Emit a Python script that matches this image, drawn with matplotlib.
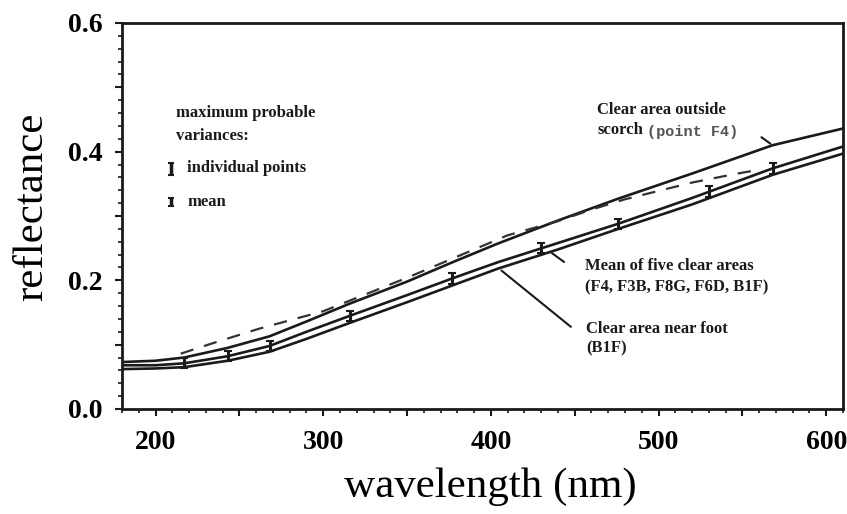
import matplotlib
matplotlib.use("Agg")
import matplotlib.pyplot as plt
from matplotlib.ticker import FixedLocator, MultipleLocator, FuncFormatter

# ---- data ----
wl = [180, 200, 217, 243, 268, 290, 316, 350, 377, 404, 440, 476, 520, 568, 610]
outside_scorch_F4 = [0.073, 0.075, 0.080, 0.095, 0.113, 0.136, 0.164, 0.198, 0.228, 0.257,
                     0.293, 0.327, 0.366, 0.410, 0.436]
mean_five = [0.068, 0.068, 0.071, 0.082, 0.098, 0.120, 0.145, 0.177, 0.203, 0.228,
             0.258, 0.288, 0.328, 0.374, 0.408]
near_foot_B1F = [0.062, 0.063, 0.065, 0.075, 0.089, 0.109, 0.134, 0.166, 0.192, 0.218,
                 0.248, 0.280, 0.318, 0.364, 0.397]

dash_wl = [215, 235, 262, 300, 350, 410, 440, 460, 480, 520, 545, 560]
dash_vals = [0.086, 0.103, 0.125, 0.152, 0.204, 0.270, 0.292, 0.310, 0.326, 0.352, 0.365, 0.372]

err_wl = [217, 243, 268, 316, 377, 430, 476, 530, 568]
err_vals = [0.071, 0.082, 0.098, 0.145, 0.203, 0.250, 0.288, 0.338, 0.374]
err_size = 0.008

x_ticks = [200, 300, 400, 500, 600]
y_ticks = [0.0, 0.2, 0.4, 0.6]

serif = ["Liberation Serif", "DejaVu Serif"]

fig = plt.figure(figsize=(8.47, 5.14), dpi=100)
ax = fig.add_axes([122/847, 1 - 409/514, (843 - 122)/847, (409 - 23)/514])

ink = "#1a1a1a"
ax.plot(wl, outside_scorch_F4, color=ink, lw=1.9)
ax.plot(wl, mean_five, color=ink, lw=1.9)
ax.plot(wl, near_foot_B1F, color=ink, lw=1.9)
ax.plot(dash_wl, dash_vals, color="#333333", lw=1.6, dashes=(6, 5))
ax.errorbar(err_wl, err_vals, yerr=err_size, fmt="none", ecolor=ink, elinewidth=2.2,
            capsize=3, capthick=1.5)

ax.set_xlim(180, 610)
ax.set_ylim(0.0, 0.6)

# ticks
ax.xaxis.set_major_locator(FixedLocator(list(range(200, 601, 50))))
ax.xaxis.set_major_formatter(FuncFormatter(lambda v, p: f"{int(v)}" if int(v) in x_ticks else ""))
ax.xaxis.set_minor_locator(MultipleLocator(10))
ax.yaxis.set_major_locator(FixedLocator([0.0, 0.1, 0.2, 0.3, 0.4, 0.5, 0.6]))
ax.yaxis.set_major_formatter(FuncFormatter(lambda v, p: f"{v:.1f}" if any(abs(v - t) < 1e-6 for t in y_ticks) else ""))
ax.yaxis.set_minor_locator(MultipleLocator(0.02))

ax.tick_params(axis="both", which="major", direction="out", length=5, width=1.5, color=ink)
ax.tick_params(axis="both", which="minor", direction="out", length=3, width=1.2, color=ink)
ax.tick_params(axis="x", which="major", pad=10)
ax.tick_params(axis="y", which="major", pad=9)
for lab in ax.get_xticklabels() + ax.get_yticklabels():
    lab.set_family(serif)
    lab.set_fontweight("bold")
    lab.set_fontsize(20)

for s in ax.spines.values():
    s.set_linewidth(2)
    s.set_color(ink)

# axis titles
fig.text(32/847, 1 - 207/514, "reflectance", rotation=90, ha="center", va="center",
         fontsize=31, family=serif)
fig.text(490/847, 1 - 487/514, "wavelength (nm)", ha="center", va="center",
         fontsize=31, family=serif)

# legend-like annotation block
tkw = dict(family=serif, fontweight="bold", fontsize=12, ha="left", va="center", color=ink)
ax.text(212, 0.460, "maximum probable", **tkw)
ax.text(212, 0.425, "variances:", **tkw)
ax.text(219, 0.374, "individual points", **tkw)
ax.text(219, 0.321, "mean", **tkw)
ax.errorbar([209], [0.373], yerr=0.010, fmt="none", ecolor=ink, elinewidth=2.5, capsize=2.5, capthick=1.5)
ax.errorbar([209], [0.322], yerr=0.006, fmt="none", ecolor=ink, elinewidth=2.5, capsize=2, capthick=1.5)

# curve labels
ax.text(463.5, 0.464, "Clear area outside", **tkw)
ax.text(463.5, 0.433, "scorch", **tkw)
ax.text(493, 0.431, "(point F4)", family=["Liberation Mono", "DejaVu Sans Mono"], fontweight="bold",
        fontsize=11, ha="left", va="center", color="#555555")
ax.text(456, 0.223, "Mean of five clear areas", **tkw)
ax.text(456, 0.189, "(F4, F3B, F8G, F6D, B1F)", **tkw)
ax.text(457, 0.125, "Clear area near foot", **tkw)
ax.text(457, 0.094, "(B1F)", **tkw)

# leader lines
lk = dict(arrowstyle="-", color=ink, lw=1.5)
ax.annotate("", xy=(568, 0.410), xytext=(560, 0.425), arrowprops=lk)
ax.annotate("", xy=(435, 0.245), xytext=(445, 0.226), arrowprops=lk)
ax.annotate("", xy=(405, 0.218), xytext=(449, 0.125), arrowprops=lk)

fig.savefig("out.png", dpi=100)
